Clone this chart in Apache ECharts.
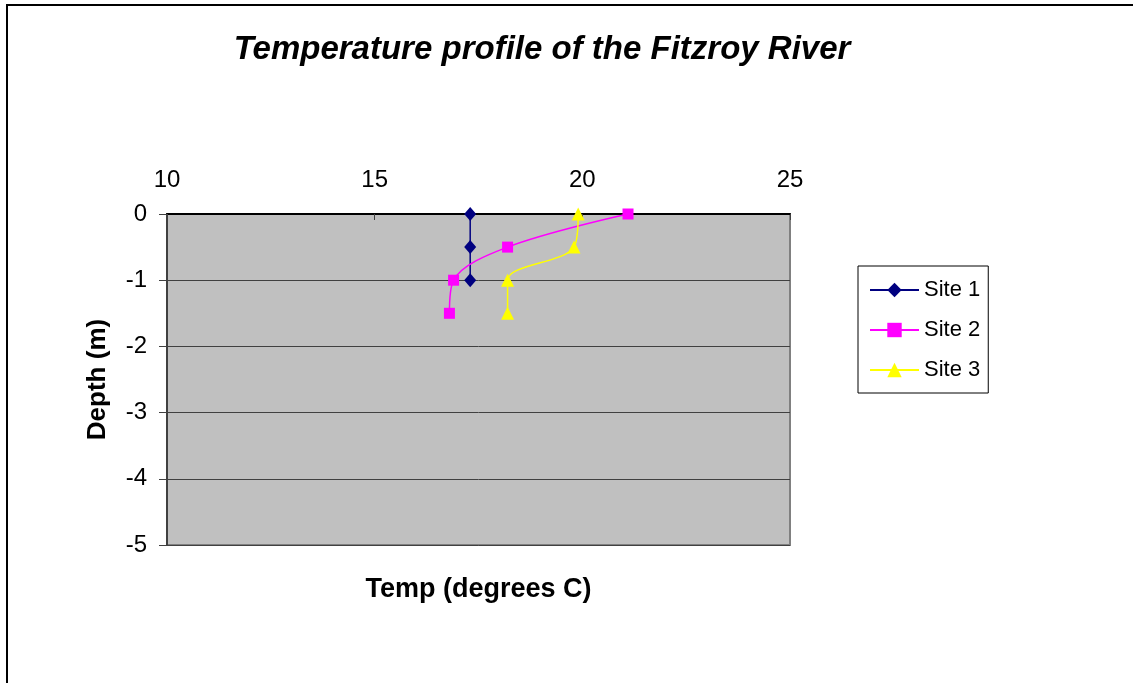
<!DOCTYPE html>
<html>
<head>
<meta charset="utf-8">
<script src="https://cdn.jsdelivr.net/npm/echarts@6/dist/echarts.min.js"></script>
<style>
html,body{margin:0;padding:0;background:#fff;}
#chart{width:1133px;height:683px;}
</style>
</head>
<body>
<div id="chart"></div>
<script>
// ---- data ----
var seriesNames = ['Site 1', 'Site 2', 'Site 3'];
var depths = [0, -0.5, -1, -1.5];
var site1Temps = [17.3, 17.3, 17.3];
var site2Temps = [21.1, 18.2, 16.9, 16.8];
var site3Temps = [19.9, 19.8, 18.2, 18.2];
var xTicks = [10, 15, 20, 25];
var yTicks = [0, -1, -2, -3, -4, -5];

function pairs(temps) {
  return temps.map(function (t, i) { return [t, depths[i]]; });
}

var FONT = '"Liberation Sans", Arial, sans-serif';
var chart = echarts.init(document.getElementById('chart'));

chart.setOption({
  animation: false,
  backgroundColor: '#ffffff',
  title: {
    text: 'Temperature profile of the Fitzroy River',
    left: 537, top: 28, textAlign: 'center',
    textStyle: { fontFamily: FONT, fontSize: 33, fontWeight: 'bold', fontStyle: 'italic', color: '#000' }
  },
  graphic: [{
    type: 'rect', silent: true, z: -1,
    shape: { x: 7, y: 5, width: 1140, height: 700 },
    style: { fill: 'none', stroke: '#000', lineWidth: 2 }
  }],
  legend: {
    orient: 'vertical',
    left: 858, top: 266,
    padding: [13, 8, 12, 11],
    itemGap: 18,
    itemWidth: 49, itemHeight: 18,
    borderColor: '#000', borderWidth: 1,
    backgroundColor: '#fff',
    textStyle: { fontFamily: FONT, fontSize: 22, color: '#000', lineHeight: 22 },
    data: seriesNames
  },
  grid: {
    left: 167, top: 214, width: 623, height: 331,
    show: true, backgroundColor: '#C0C0C0', borderColor: '#808080', borderWidth: 2
  },
  xAxis: [{
    type: 'value', position: 'top', min: 10, max: 25, interval: 5,
    axisLine: { show: true, onZero: false, lineStyle: { color: '#000', width: 2 } },
    axisTick: { show: true, inside: true, length: 6, lineStyle: { color: '#404040' } },
    axisLabel: { margin: 22, fontFamily: FONT, fontSize: 24, color: '#000' },
    splitLine: { show: false }
  }, {
    type: 'value', position: 'bottom', min: 10, max: 25,
    name: 'Temp (degrees C)', nameLocation: 'middle', nameGap: 31,
    nameTextStyle: { fontFamily: FONT, fontSize: 27, fontWeight: 'bold', color: '#000' },
    axisLine: { show: false }, axisTick: { show: false }, axisLabel: { show: false }, splitLine: { show: false }
  }],
  yAxis: {
    type: 'value', min: -5, max: 0, interval: 1,
    name: 'Depth (m)', nameLocation: 'middle', nameGap: 56,
    nameTextStyle: { fontFamily: FONT, fontSize: 26, fontWeight: 'bold', color: '#000' },
    axisLine: { show: true, onZero: false, lineStyle: { color: '#404040', width: 2 } },
    axisTick: { show: true, inside: false, length: 8, lineStyle: { color: '#404040' } },
    axisLabel: { margin: 20, fontFamily: FONT, fontSize: 24, color: '#000' },
    splitLine: { show: true, lineStyle: { color: '#404040', width: 1 } }
  },
  series: [{
    name: 'Site 1', type: 'line', smooth: 0.35, xAxisIndex: 0,
    data: pairs(site1Temps),
    symbol: 'diamond', symbolSize: [12, 14],
    lineStyle: { color: '#000080', width: 1.5 },
    itemStyle: { color: '#000080' }
  }, {
    name: 'Site 2', type: 'line', smooth: 0.35, xAxisIndex: 0,
    data: pairs(site2Temps),
    symbol: 'rect', symbolSize: 11,
    lineStyle: { color: '#FF00FF', width: 1.5 },
    itemStyle: { color: '#FF00FF' }
  }, {
    name: 'Site 3', type: 'line', smooth: 0.35, xAxisIndex: 0,
    data: pairs(site3Temps),
    symbol: 'triangle', symbolSize: 13,
    lineStyle: { color: '#FFFF00', width: 1.5 },
    itemStyle: { color: '#FFFF00' }
  }]
});
</script>
</body>
</html>
